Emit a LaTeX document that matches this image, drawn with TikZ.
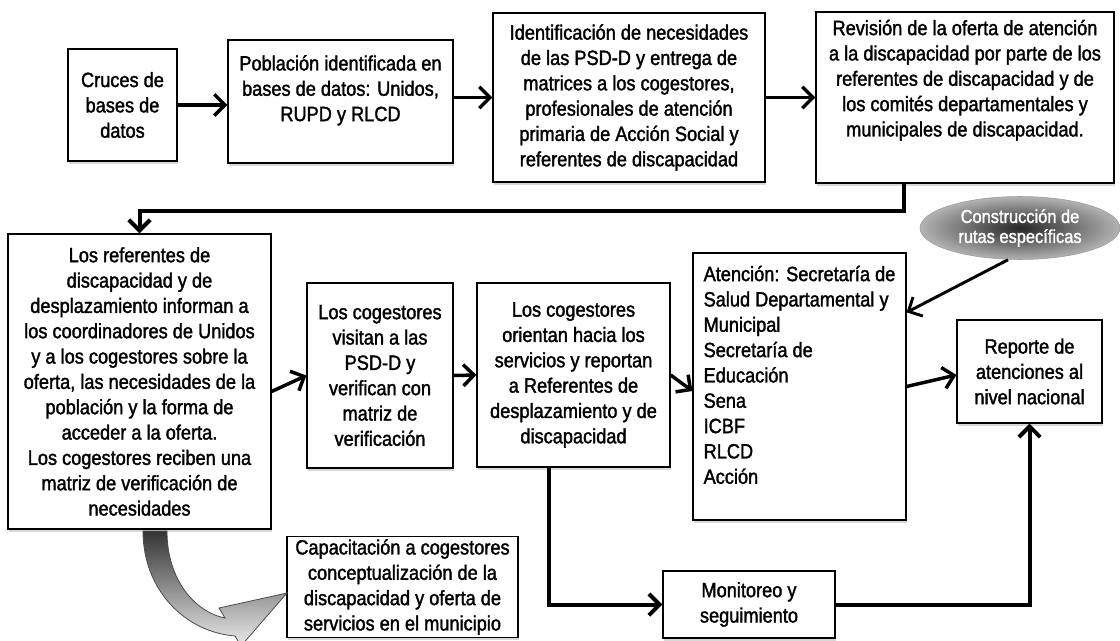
\documentclass[tikz,border=0pt]{standalone}
\usepackage{fontspec}
\setmainfont{Liberation Sans}[FakeStretch=0.88, FakeBold=1.6]
\usetikzlibrary{arrows.meta, positioning, shapes.geometric, shadows}

\begin{document}
\begin{tikzpicture}[
  x=0.75pt, y=-0.75pt,
  font=\fontsize{15.5}{19}\selectfont,
  box/.style={draw=black, line width=0.9pt, fill=white, align=center, inner sep=2pt, drop shadow={shadow xshift=0.5pt, shadow yshift=-2pt, fill=black!30}},
  oval/.style={ellipse, draw=black!40, inner color=black!85, outer color=black!30, text=white, align=center, inner sep=0pt, font=\fontsize{14}{15}\selectfont},
  arr/.style={-{Straight Barb[length=8pt, width=16pt]}, line width=2.6pt},
  hline/.style={-{Straight Barb[length=8pt, width=16pt]}, line width=3pt},
]
\useasboundingbox (0,0) rectangle (1120,641);

% First row
\node[box, minimum width=81.75pt, minimum height=84pt] (cruces) at (122.5,105) {Cruces de\\bases de\\datos};
\node[box, minimum width=168.75pt, minimum height=92.25pt, text depth=20pt] (poblacion) at (340.5,101.5) {Población identificada en\\bases de datos: Unidos,\\RUPD y RLCD};
\node[box, minimum width=204pt, minimum height=126.75pt] (identif) at (629,97.5) {Identificación de necesidades\\de las PSD-D y entrega de\\matrices a los cogestores,\\profesionales de atención\\primaria de Acción Social y\\referentes de discapacidad};
\node[box, minimum width=223.5pt, minimum height=128.25pt, text depth=29pt] (revision) at (965,97.5) {Revisión de la oferta de atención\\a la discapacidad por parte de los\\referentes de discapacidad y de\\los comités departamentales y\\municipales de discapacidad.};

% Second row
\node[box, minimum width=197.25pt, minimum height=221.25pt] (informan) at (139.5,381.5) {Los referentes de\\discapacidad y de\\desplazamiento informan a\\los coordinadores de Unidos\\y a los cogestores sobre la\\oferta, las necesidades de la\\población y la forma de\\acceder a la oferta.\\Los cogestores reciben una\\matriz de verificación de\\necesidades};
\node[box, minimum width=109.5pt, minimum height=138.75pt] (visitan) at (380,375.5) {Los cogestores\\visitan a las\\PSD-D y\\verifican con\\matriz de\\verificación};
\node[box, minimum width=144.75pt, minimum height=138pt] (orientan) at (573.5,375) {Los cogestores\\orientan hacia los\\servicios y reportan\\a Referentes de\\desplazamiento y de\\discapacidad};
\node[box, minimum width=159.75pt, minimum height=200.25pt, align=left, text depth=17.5pt] (atencion) at (799.5,386.5) {Atención: Secretaría de\\Salud Departamental y\\Municipal\\Secretaría de\\Educación\\Sena\\ICBF\\RLCD\\Acción};
\node[box, minimum width=108.75pt, minimum height=77.25pt] (reporte) at (1029.5,371.5) {Reporte de\\atenciones al\\nivel nacional};
\node[oval, minimum width=150pt, minimum height=47.25pt] (rutas) at (1020,228) {Construcción de\\rutas específicas};

% Bottom row
\node[box, minimum width=173.25pt, minimum height=75pt] (capacit) at (402.5,587) {Capacitación a cogestores\\conceptualización de la\\discapacidad y oferta de\\servicios en el municipio};
\node[box, minimum width=129pt, minimum height=50.25pt] (monitoreo) at (749,604.5) {Monitoreo y\\seguimiento};

% Arrows
\draw[arr] (cruces.east) -- (cruces.east -| poblacion.west);
\draw[arr] (identif.west -| poblacion.east) -- (identif.west);
\draw[arr] (identif.east) -- (revision.west);
\draw[hline] ([xshift=-45.75pt]revision.south) -- ++(0,27) -| (informan.north);
\draw[arr] ([yshift=-7.5pt]informan.east) -- (visitan.west);
\draw[arr] (visitan.east) -- (orientan.west);
\draw[arr] (orientan.east) -- ([yshift=-3.4pt]atencion.west);
\draw[arr] (atencion.east) -- ([yshift=-2.6pt]reporte.west);
\draw[arr, line width=2.2pt] ([xshift=-9pt]rutas.south) -- ([yshift=-45pt]atencion.north east);
\draw[hline] ([xshift=-18.4pt]orientan.south) |- (monitoreo.west);
\draw[hline] (monitoreo.east) -| (reporte.south);

% Curved block arrow
\shadedraw[draw=black!70, line width=0.6pt, top color=black!80, bottom color=black!8]
  (143,531) .. controls (143,590) and (185,632) .. (235,636) -- (241,646) -- (287,593) -- (219,608) -- (225,618)
  .. controls (195,612) and (167,580) .. (167,531) -- cycle;

\end{tikzpicture}
\end{document}
